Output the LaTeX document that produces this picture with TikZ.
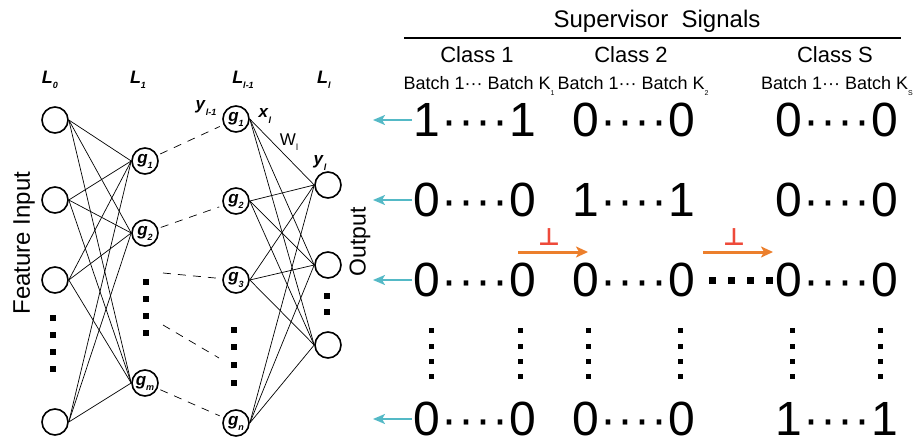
\documentclass[tikz,border=0pt]{standalone}
\usepackage{fontspec}
\setmainfont{Liberation Sans}
\newfontfamily\symfont{DejaVu Sans}
\usepackage{tikz}
\usetikzlibrary{arrows.meta}
\definecolor{sigcyan}{RGB}{84,185,198}
\definecolor{sigorange}{RGB}{236,127,44}
\definecolor{sigred}{RGB}{238,74,58}
\tikzset{unit/.style={circle, draw, line width=1.6pt, minimum size=26pt, inner sep=0pt, font=\fontsize{17}{17}\selectfont},
  link/.style={line width=.7pt},
  skip/.style={line width=.7pt, dash pattern=on 8pt off 7pt, shorten <=3pt, shorten >=4pt},
  outarr/.style={sigcyan, line width=2pt, -{Stealth[length=12pt,width=10pt,inset=3pt]}},
  ortharr/.style={sigorange, line width=3pt, -{Stealth[length=12pt,width=11pt,inset=3pt]}},
  sig/.style={inner sep=0pt, font=\fontsize{48}{48}\selectfont},
  lay/.style={font=\fontsize{18}{18}\selectfont},
  var/.style={font=\fontsize{17}{17}\selectfont},
  orth/.style={text=sigred, inner sep=0pt, font=\symfont\bfseries\fontsize{24}{24}\selectfont}}
\newcommand{\lsub}[1]{\raisebox{-.3em}{\fontsize{9}{9}\selectfont #1}}
\newcommand{\bi}[2]{\textbf{\textit{#1}}\lsub{\textbf{\textit{#2}}}}
\newcommand{\dd}{\kern1.2pt·\kern1.2pt·\kern1.2pt·\kern1.2pt·\kern1.2pt}

\begin{document}
\begin{tikzpicture}[x=1pt, y=-1pt]
\useasboundingbox (0,0) rectangle (916,441);
% network
\node[unit] (i1) at (55,120) {};
\node[unit] (i2) at (55,200) {};
\node[unit] (i3) at (55,280) {};
\node[unit] (i4) at (55,422) {};
\node[unit] (h1) at (145,161) {\bi{g}{1}};
\node[unit] (h2) at (145,233) {\bi{g}{2}};
\node[unit] (hm) at (145,383) {\bi{g}{m}};
\node[unit] (k1) at (236,119) {\bi{g}{1}};
\node[unit] (k2) at (236,201) {\bi{g}{2}};
\node[unit] (k3) at (236,280) {\bi{g}{3}};
\node[unit] (kn) at (236,423) {\bi{g}{n}};
\node[unit] (o1) at (328,185) {};
\node[unit] (o2) at (328,265) {};
\node[unit] (o3) at (328,345) {};
\foreach \a in {i1,i2,i3,i4} \foreach \b in {h1,h2,hm} \draw[link] (\a.east) -- (\b.west);
\foreach \a in {k1,k2,k3,kn} \foreach \b in {o1,o2,o3} \draw[link] (\a.east) -- (\b.west);
\coordinate (d1) at (163,273);
\coordinate (d2) at (163,325);
\coordinate (d3) at (219,358);
\draw[skip] (h1) -- (k1);
\draw[skip] (h2) -- (k2);
\draw[skip, shorten <=0pt] (d1) -- (k3);
\draw[skip, shorten <=0pt, shorten >=0pt] (d2) -- (d3);
\draw[skip] (hm) -- (kn);
\foreach \x/\y in {53/318,53/335,53/352,53/369,146/282,146/299,146/316,146/333,234/330,234/347,234/365,234/383,327/296,327/312}
  \fill (\x-3,\y-3) rectangle ++(6,6);
\node[lay] (l0) at (50,80) {\bi{L}{0}};
\node[lay] (l1) at (138,80) {\bi{L}{1}};
\node[lay] (l2) at (243,80) {\bi{L}{l-1}};
\node[lay] (l3) at (324,80) {\bi{L}{l}};
\node[var] (yp) at (206,108) {\bi{y}{l-1}};
\node[var] (xl) at (265,116) {\bi{x}{l}};
\node[var] (wl) at (289,142) {W\lsub{l}};
\node[var] (yl) at (320,163) {\bi{y}{l}};
\node[rotate=90, font=\fontsize{24}{24}\selectfont] (feat) at (24,243) {Feature Input};
\node[rotate=90, font=\fontsize{23}{23}\selectfont] (outp) at (360,242) {Output};
% supervisor signals
\node[font=\fontsize{24}{24}\selectfont] (sup) at (657,21) {Supervisor\ \ Signals};
\coordinate (rl) at (404,38);
\coordinate (rr) at (901,38);
\draw[line width=1.8pt] (rl) -- (rr);
\foreach \n/\x/\t/\k in {1/477/1/1, 2/631/2/2, 3/835/S/S} {
  \node[anchor=base, font=\fontsize{22}{22}\selectfont] (c\n) at (\x,63) {Class \t};
  \node[anchor=base, font=\fontsize{18}{18}\selectfont] (b\n) at (\x+2,90) {Batch 1···\ Batch K\lsub{\fontsize{7}{7}\selectfont\k}};
}
\foreach \r/\y/\a/\b/\c in {1/120/1/0/0, 2/200/0/1/0, 3/280/0/0/0, 4/419/0/0/1} {
  \node[sig] (s\r1) at (475,\y) {\a\dd\a};
  \node[sig] (s\r2) at (634,\y) {\b\dd\b};
  \node[sig] (s\r3) at (837,\y) {\c\dd\c};
  \coordinate (e\r) at (373,\y);
  \draw[outarr] ([xshift=-1pt]s\r1.west) -- (e\r);
}
\foreach \x in {712,731,750,769} \fill (\x-3.5,276.5) rectangle ++(7,7);
\foreach \x in {431,520,588,680,792,880} \foreach \y in {330,346,361,376}
  \fill (\x-2.5,\y-2.5) rectangle ++(5,5);
\coordinate (a1) at (518,252);
\coordinate (a2) at (588,252);
\coordinate (a3) at (703,252);
\coordinate (a4) at (773,252);
\draw[ortharr] (a1) -- (a2);
\draw[ortharr] (a3) -- (a4);
\node[orth] (p1) at (549,237) {⊥};
\node[orth] (p2) at (734,237) {⊥};
\end{tikzpicture}
\end{document}
